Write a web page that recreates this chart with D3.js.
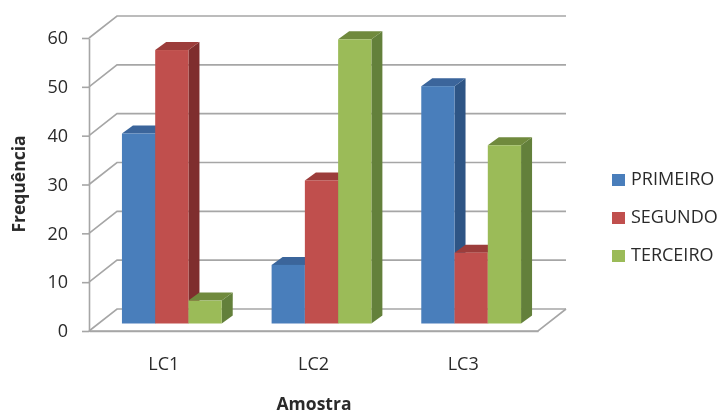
<!DOCTYPE html>
<html>
<head>
<meta charset="utf-8">
<script src="https://cdn.jsdelivr.net/npm/d3@7"></script>
<style>
  html, body { margin: 0; padding: 0; background: #fff; }
  text { font-family: "Open Sans", "Noto Sans", sans-serif; fill: #2a2a2a; }
</style>
</head>
<body>
<div id="chart"></div>
<script>
// Data
var categories = ["LC1", "LC2", "LC3"];
var seriesNames = ["PRIMEIRO", "SEGUNDO", "TERCEIRO"];
var primeiro = [38.9, 12, 48.6];
var segundo = [56, 29.3, 14.5];
var terceiro = [4.7, 58.2, 36.5];
var yTicks = [0, 10, 20, 30, 40, 50, 60];

var seriesValues = [primeiro, segundo, terceiro];
var faceColors = ["#4a7ebb", "#c0504d", "#9bbb59"];
var topColors = ["#3a659b", "#9c3c3a", "#6f8a3d"];
var sideColors = ["#2f5585", "#7f2f2d", "#64803a"];

var width = 722, height = 415;
var plot = {left: 89, right: 538, top: 38, bottom: 331};
var wall = {dx: 28, dy: -22};   // depth of the back wall
var bar = {dx: 11, dy: -8, ox: 8, oy: -7.5};  // depth of the bars and shift off the floor edge

var svg = d3.select("#chart").append("svg")
  .attr("width", width)
  .attr("height", height)
  .style("display", "block");

var defs = svg.append("defs");
defs.append("filter").attr("id", "soft")
  .append("feGaussianBlur").attr("stdDeviation", 0.45);

var root = svg.append("g").attr("filter", "url(#soft)");

var xScale = d3.scaleBand().domain(categories).range([plot.left, plot.right])
  .paddingInner(0).paddingOuter(0);
// gap of half a bar-group between categories
var innerScale = d3.scaleBand().domain(d3.range(seriesNames.length))
  .range([0, xScale.bandwidth()]).paddingInner(0).paddingOuter(0.75);
var yScale = d3.scaleLinear().domain([0, 60]).range([plot.bottom, plot.top]);

// back wall grid lines and the left wall diagonals
var grid = root.append("g").attr("stroke", "#a6a6a6").attr("stroke-width", 1.6).attr("fill", "none");
yTicks.forEach(function(t) {
  var y = yScale(t);
  grid.append("path")
    .attr("d", "M" + plot.left + "," + y + "L" + (plot.left + wall.dx) + "," + (y + wall.dy) +
      "L" + (plot.right + wall.dx) + "," + (y + wall.dy));
});
// floor
grid.append("path")
  .attr("d", "M" + plot.left + "," + plot.bottom + "L" + plot.right + "," + plot.bottom +
    "L" + (plot.right + wall.dx) + "," + (plot.bottom + wall.dy));

// bars, drawn left to right so the next front face covers the previous side
categories.forEach(function(cat, c) {
  seriesNames.forEach(function(name, s) {
    var x0 = xScale(cat) + innerScale(s) + bar.ox;
    var x1 = x0 + innerScale.bandwidth();
    var yTop = yScale(seriesValues[s][c]) + bar.oy;
    var yBase = yScale(0) + bar.oy;
    var g = root.append("g");
    g.append("path").attr("fill", sideColors[s])
      .attr("d", "M" + x1 + "," + yTop + "L" + (x1 + bar.dx) + "," + (yTop + bar.dy) +
        "L" + (x1 + bar.dx) + "," + (yBase + bar.dy) + "L" + x1 + "," + yBase + "Z");
    g.append("path").attr("fill", topColors[s])
      .attr("d", "M" + x0 + "," + yTop + "L" + (x0 + bar.dx) + "," + (yTop + bar.dy) +
        "L" + (x1 + bar.dx) + "," + (yTop + bar.dy) + "L" + x1 + "," + yTop + "Z");
    g.append("rect").attr("fill", faceColors[s])
      .attr("x", x0).attr("y", yTop)
      .attr("width", x1 - x0).attr("height", yBase - yTop);
  });
});

// Y axis
var yAxis = d3.axisLeft(yScale).tickValues(yTicks).tickSize(7).tickPadding(14).tickSizeOuter(0);
var yAxisEl = root.append("g")
  .attr("transform", "translate(" + plot.left + ",0)")
  .call(yAxis);
yAxisEl.selectAll("line, path").attr("stroke", "#a6a6a6").attr("stroke-width", 1.6);
yAxisEl.selectAll("text").style("font-size", "18px").attr("fill", "#2a2a2a");

// X axis (line already drawn with the floor)
var xAxis = d3.axisBottom(xScale).tickSize(0).tickPadding(26);
var xAxisEl = root.append("g")
  .attr("transform", "translate(0," + plot.bottom + ")")
  .call(xAxis);
xAxisEl.select(".domain").attr("stroke", "#a6a6a6").attr("stroke-width", 1.6);
xAxisEl.selectAll("text").style("font-size", "18px").attr("fill", "#2a2a2a");

// Axis titles
root.append("text")
  .attr("transform", "translate(25,184) rotate(-90)")
  .attr("text-anchor", "middle")
  .style("font-size", "17.5px").style("font-weight", "bold")
  .text("Frequência");
root.append("text")
  .attr("x", 314).attr("y", 409.5)
  .attr("text-anchor", "middle")
  .style("font-size", "17.5px").style("font-weight", "bold")
  .text("Amostra");

// Legend
var legend = root.selectAll(".legend").data(seriesNames).enter().append("g")
  .attr("class", "legend")
  .attr("transform", function(d, i) { return "translate(612," + (180 + i * 38) + ")"; });
legend.append("rect")
  .attr("x", 0).attr("y", -6).attr("width", 13).attr("height", 12)
  .attr("fill", function(d, i) { return faceColors[i]; });
legend.append("text")
  .attr("x", 19).attr("y", -1).attr("dy", "0.35em")
  .style("font-size", "18px")
  .text(function(d) { return d; });
</script>
</body>
</html>
